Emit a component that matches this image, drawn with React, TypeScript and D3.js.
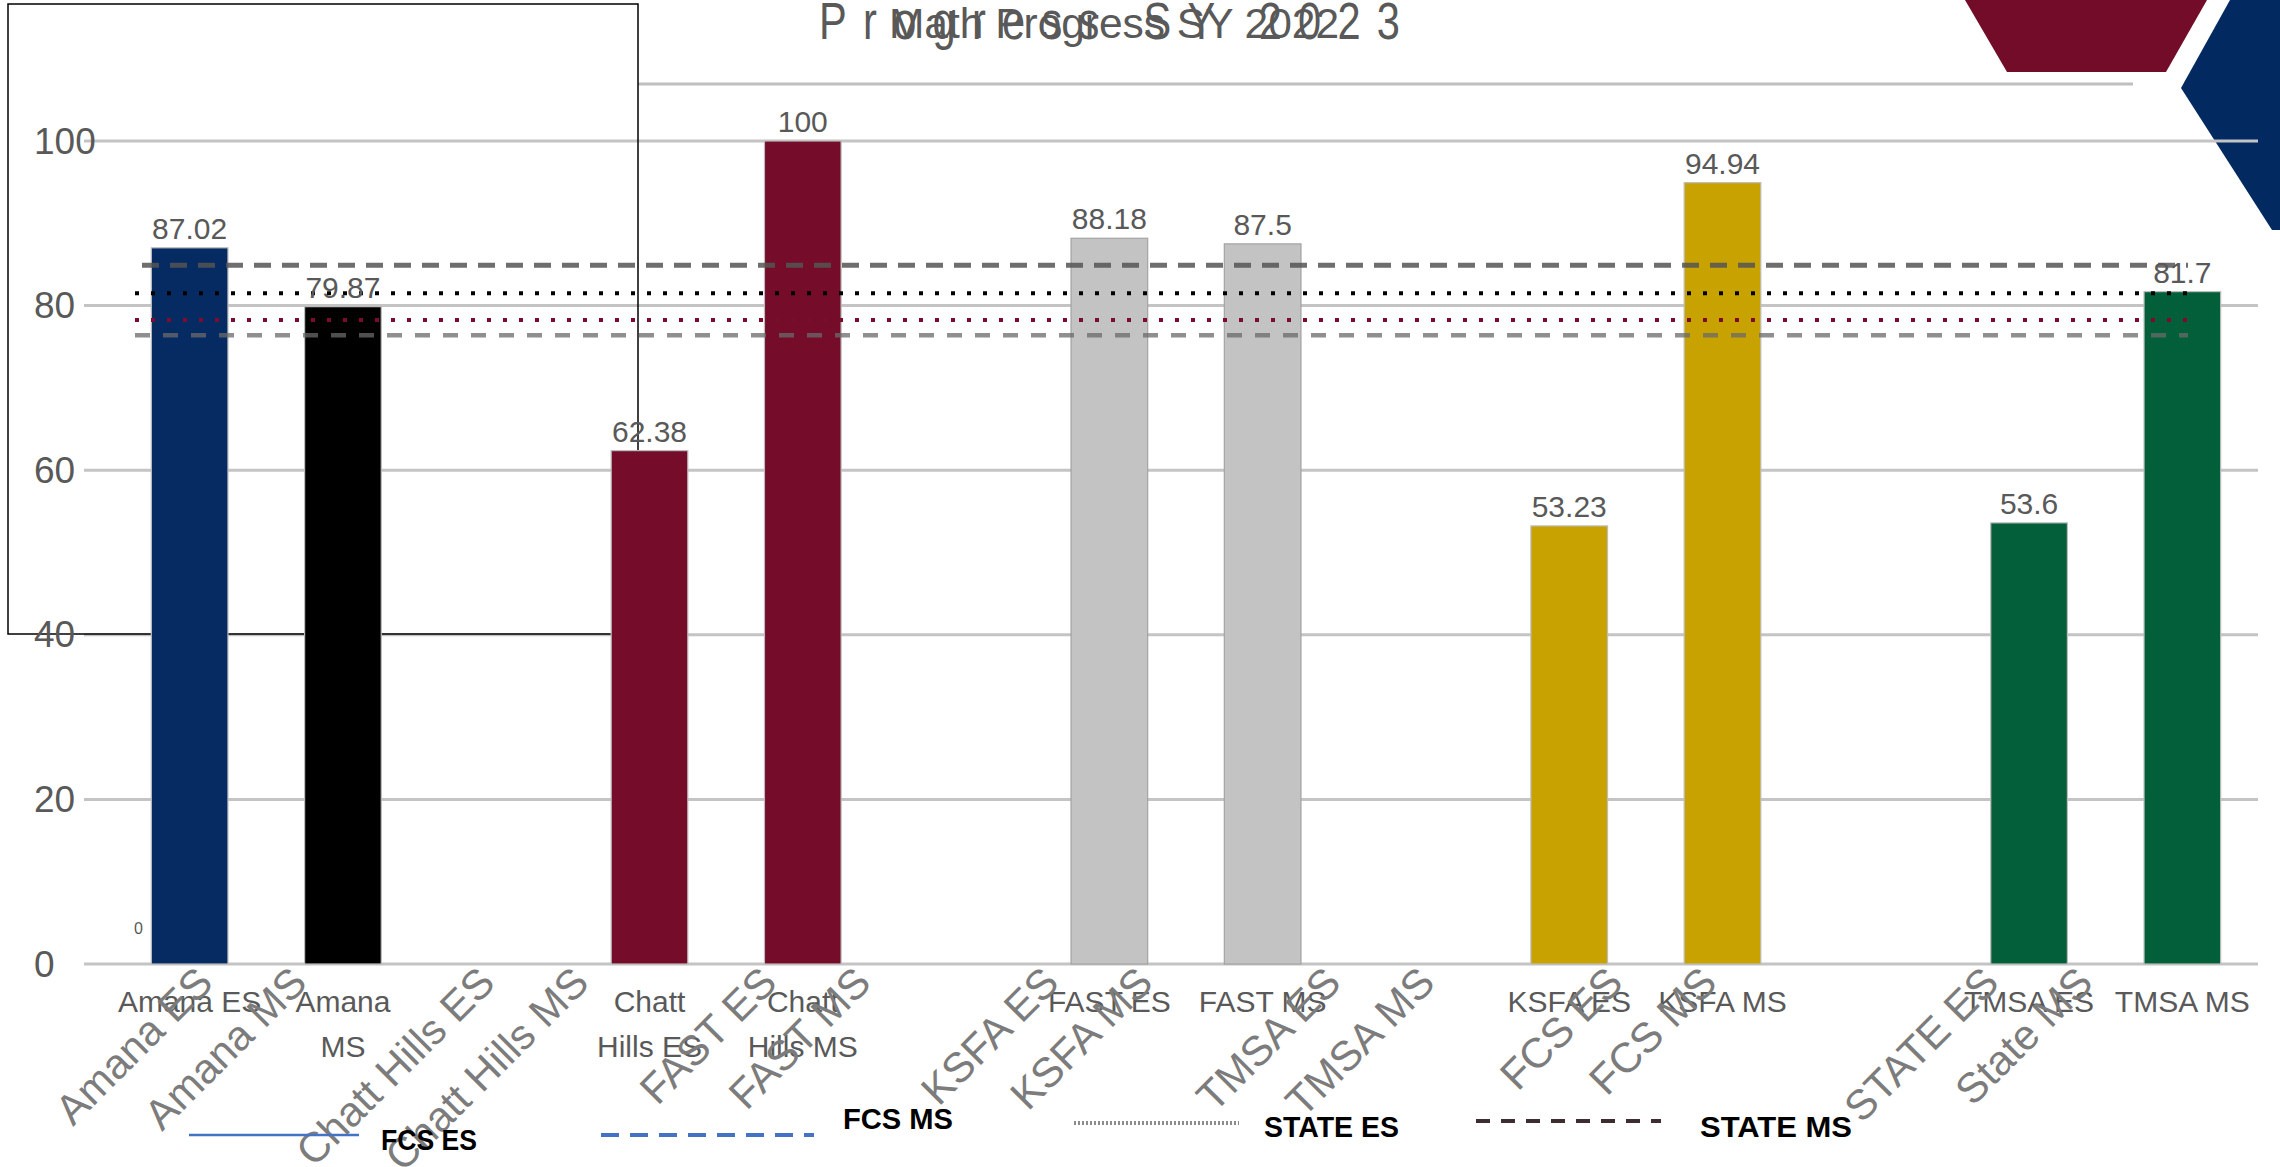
import React from "react";
import * as d3 from "d3";

const W = 2280;
const H = 1167;

// ---- data ----
const titleMain = "Progress SY 2023";
const titleOverlay = "Math Progress SY 2022";

const barCategories = ["Amana ES", "Amana MS", "", "Chatt Hills ES", "Chatt Hills MS", "", "FAST ES", "FAST MS", "", "KSFA ES", "KSFA MS", "", "TMSA ES", "TMSA MS"];
const barLabelLines = [["Amana ES"], ["Amana", "MS"], [], ["Chatt", "Hills ES"], ["Chatt", "Hills MS"], [], ["FAST ES"], ["FAST MS"], [], ["KSFA ES"], ["KSFA MS"], [], ["TMSA ES"], ["TMSA MS"]];
const barValues: (number | null)[] = [87.02, 79.87, null, 62.38, 100, null, 88.18, 87.5, null, 53.23, 94.94, null, 53.6, 81.7];
const barColors = ["#062b62", "#000000", null, "#750c2a", "#750c2a", null, "#c3c3c3", "#c3c3c3", null, "#c8a300", "#c8a300", null, "#035f3a", "#035f3a"];
const barValueText = ["87.02", "79.87", "", "62.38", "100", "", "88.18", "87.5", "", "53.23", "94.94", "", "53.6", "81.7"];

const yTicks = [0, 20, 40, 60, 80, 100];

const axisCategories = ["Amana ES", "Amana MS", "", "Chatt Hills ES", "Chatt Hills MS", "", "FAST ES", "FAST MS", "", "KSFA ES", "KSFA MS", "", "TMSA ES", "TMSA MS", "", "FCS ES", "FCS MS", "", "", "STATE ES", "State MS"];

const refValues = [84.9, 81.5, 78.25, 76.4];
const refStyles = [
  { color: "#555555", width: 5, dash: "17 11", opacity: 0.85 },
  { color: "#000000", width: 4, dash: "4 12", opacity: 1 },
  { color: "#7a0c2e", width: 4, dash: "4 12", opacity: 1 },
  { color: "#6a6a6a", width: 4.5, dash: "15 13", opacity: 0.75 },
];

const legendNames = ["FCS ES", "FCS MS", "STATE ES", "STATE MS"];

export default function App() {
  const x = d3
    .scaleBand<number>()
    .domain(d3.range(barCategories.length))
    .range([113, 2259])
    .paddingInner(0.5)
    .paddingOuter(0.25);
  const y = d3.scaleLinear().domain([0, 100]).range([964, 141]);
  const xr = d3.scalePoint<number>().domain(d3.range(axisCategories.length)).range([215, 2095]);

  const grey = "#595959";
  const font = "'Liberation Sans', Arial, sans-serif";

  // legend layout
  const legendLines = [
    { x0: 189, x1: 359, y: 1135, color: "#4472c4", width: 2.5, dash: "none" },
    { x0: 601, x1: 814, y: 1135, color: "#4472c4", width: 4, dash: "18 11" },
    { x0: 1074, x1: 1239, y: 1123, color: "#8c8c8c", width: 4, dash: "2 2" },
    { x0: 1476, x1: 1661, y: 1121, color: "#3d2c30", width: 4, dash: "14 11" },
  ];
  const legendTexts = [
    { x: 381, y: 1150, len: 96 },
    { x: 843, y: 1129, len: 110 },
    { x: 1264, y: 1137, len: 135 },
    { x: 1700, y: 1137, len: 152 },
  ];

  const sx = 0.8;

  return (
    <svg
      width={W}
      height={H}
      style={{ position: "fixed", left: 0, top: 0, background: "#fff" }}
      xmlns="http://www.w3.org/2000/svg"
    >
      <rect x={0} y={0} width={W} height={H} fill="#ffffff" />

      {/* decorative shapes */}
      <polygon points="1965,0 2207,0 2166,72 2007,72" fill="#730c28" />
      <polygon points="2230,0 2280,0 2280,230 2272,230 2181,88" fill="#032a60" />

      {/* titles */}
      <g transform={`translate(819,39) scale(${sx},1)`}>
        <text x={0} y={0} fontFamily={font} fontSize={52} fill={grey} textLength={581 / sx} lengthAdjust="spacing">
          {titleMain}
        </text>
      </g>
      <g transform={`translate(889,38) scale(${sx},1)`}>
        <text x={0} y={0} fontFamily={font} fontSize={42} fill={grey} textLength={450 / sx} lengthAdjust="spacingAndGlyphs">
          {titleOverlay}
        </text>
      </g>
      <line x1={638} x2={2133} y1={84} y2={84} stroke="#bfbfbf" strokeWidth={3} />

      {/* gridlines */}
      {yTicks.map((t) => (
        <line key={t} x1={84} x2={2258} y1={y(t)} y2={y(t)} stroke="#c4c4c4" strokeWidth={3} />
      ))}

      {/* box */}
      <rect x={8} y={4} width={630} height={630} fill="none" stroke="#000" strokeWidth={1.5} />

      {/* bars */}
      {barValues.map((v, i) =>
        v == null ? null : (
          <rect
            key={i}
            x={x(i)}
            y={y(v)}
            width={x.bandwidth()}
            height={y(0) - y(v)}
            fill={barColors[i] as string}
            stroke={barColors[i] === "#c3c3c3" ? "#a3a3a3" : "#bdbdbd"}
            strokeWidth={1.2}
          />
        )
      )}

      {/* reference lines */}
      {refValues.map((v, i) => (
        <line
          key={i}
          x1={i === 0 ? 142 : 135}
          x2={2188}
          y1={y(v)}
          y2={y(v)}
          stroke={refStyles[i].color}
          strokeWidth={refStyles[i].width}
          strokeDasharray={refStyles[i].dash}
          opacity={refStyles[i].opacity}
        />
      ))}

      {/* value labels */}
      {barValues.map((v, i) =>
        v == null ? null : (
          <text
            key={i}
            x={(x(i) as number) + x.bandwidth() / 2}
            y={y(v) - 9}
            textAnchor="middle"
            fontFamily={font}
            fontSize={30}
            fill={grey}
          >
            {barValueText[i]}
          </text>
        )
      )}

      {/* y tick labels */}
      {yTicks.map((t) => (
        <text key={t} x={34} y={y(t)} dominantBaseline="central" fontFamily={font} fontSize={37} fill={grey}>
          {t}
        </text>
      ))}
      <text x={134} y={928} dominantBaseline="central" fontFamily={font} fontSize={16} fill={grey}>
        0
      </text>

      {/* horizontal category labels */}
      {barLabelLines.map((lines, i) =>
        lines.map((ln, j) => (
          <text
            key={i + "-" + j}
            x={(x(i) as number) + x.bandwidth() / 2}
            y={1012 + j * 45}
            textAnchor="middle"
            fontFamily={font}
            fontSize={30}
            fill={grey}
          >
            {ln}
          </text>
        ))
      )}

      {/* rotated category labels */}
      {axisCategories.map((c, i) =>
        c === "" ? null : (
          <text
            key={i}
            transform={`translate(${xr(i)},985) rotate(-45)`}
            textAnchor="end"
            fontFamily={font}
            fontSize={42}
            fill="#7c7c7c"
          >
            {c}
          </text>
        )
      )}

      {/* legend */}
      {legendNames.map((n, i) => (
        <g key={n}>
          <line
            x1={legendLines[i].x0}
            x2={legendLines[i].x1}
            y1={legendLines[i].y}
            y2={legendLines[i].y}
            stroke={legendLines[i].color}
            strokeWidth={legendLines[i].width}
            strokeDasharray={legendLines[i].dash}
          />
          <text
            x={legendTexts[i].x}
            y={legendTexts[i].y}
            fontFamily={font}
            fontWeight="bold"
            fontSize={29}
            fill="#000"
            textLength={legendTexts[i].len}
            lengthAdjust="spacingAndGlyphs"
          >
            {n}
          </text>
        </g>
      ))}
    </svg>
  );
}
